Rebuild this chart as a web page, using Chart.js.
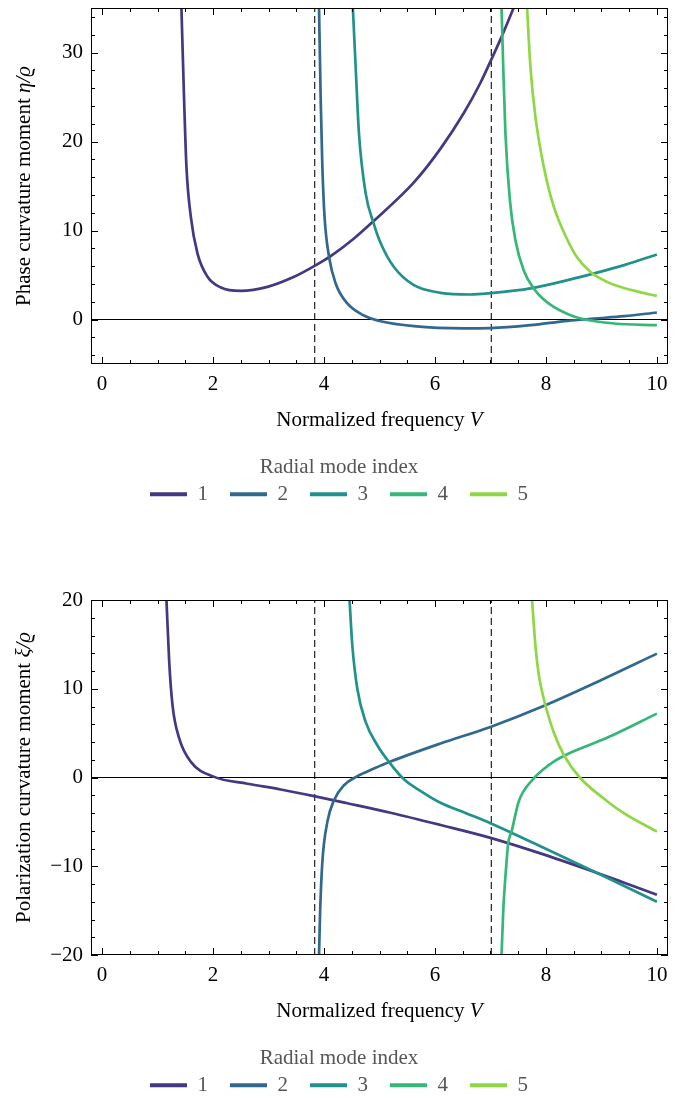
<!DOCTYPE html>
<html><head><meta charset="utf-8">
<script src="https://cdn.jsdelivr.net/npm/chart.js@4.4.1/dist/chart.umd.min.js"></script>
<style>html,body{margin:0;padding:0;background:#fff;overflow:hidden}canvas{display:block}</style>
</head><body>
<canvas id="c1" width="682" height="549"></canvas>
<canvas id="c2" width="682" height="549"></canvas>
<script>
// ---------- data ----------
const modeLabels = ['1', '2', '3', '4', '5'];
const modeColors = ['#453781', '#31688e', '#21918c', '#35b779', '#8fd744'];
const cutoffV = [3.8317, 7.0156];
const xRange = [-0.2, 10.2];
const xTicks = [0, 2, 4, 6, 8, 10];
const xMinorTicks = [0.5, 1, 1.5, 2.5, 3, 3.5, 4.5, 5, 5.5, 6.5, 7, 7.5, 8.5, 9, 9.5];
const xTitleParts = [['Normalized frequency ', false], ['V', true]];
const etaTitleParts = [['Phase curvature moment ', false], ['\u03B7/\u03F1', true]];
const xiTitleParts = [['Polarization curvature moment ', false], ['\u03BE/\u03F1', true]];
const legendTitle = 'Radial mode index';

// Phase curvature moment eta/rho
const etaRange = [-5, 35];
const etaTicks = [0, 10, 20, 30];
const etaMinorTicks = [-4, -2, 2, 4, 6, 8, 12, 14, 16, 18, 22, 24, 26, 28, 32, 34];
const etaV1 = [1.43, 1.478, 1.52, 1.60, 1.72, 1.90, 2.14, 2.50, 2.98, 3.46, 3.83, 4.12, 4.54, 4.90, 5.62, 6.10, 6.52, 6.82, 7.00, 7.21, 7.45];
const etaY1 = [35, 24.7, 17.2, 11.5, 7.4, 4.8, 3.6, 3.22, 3.67, 4.8, 6.03, 7.12, 9.1, 11.1, 15.4, 19.2, 23.2, 26.6, 29.0, 31.9, 35.5];
const etaV2 = [3.91, 3.94, 3.97, 4.01, 4.09, 4.21, 4.42, 4.72, 5.02, 5.62, 6.52, 7.00, 7.72, 8.39, 8.87, 9.41, 10.0];
const etaY2 = [35, 24.7, 17.2, 11.5, 7.05, 4.05, 1.8, 0.45, -0.2, -0.75, -1.0, -0.97, -0.64, -0.15, 0.1, 0.37, 0.79];
const etaV3 = [4.52, 4.57, 4.63, 4.75, 4.90, 5.02, 5.26, 5.62, 6.10, 6.64, 7.00, 7.72, 8.39, 8.87, 9.41, 10.0];
const etaY3 = [35, 28.4, 20.9, 14.2, 10.7, 8.6, 5.9, 3.86, 3.0, 2.81, 2.96, 3.49, 4.42, 5.18, 6.11, 7.31];
const etaV4 = [7.20, 7.23, 7.27, 7.35, 7.45, 7.60, 7.78, 7.95, 8.14, 8.40, 8.63, 9.23, 10.0];
const etaY4 = [35, 28.4, 20.9, 13.4, 8.9, 5.5, 3.49, 2.3, 1.42, 0.6, 0.11, -0.45, -0.64];
const etaV5 = [7.66, 7.72, 7.81, 7.96, 8.14, 8.39, 8.57, 8.81, 9.11, 9.35, 9.71, 10.0];
const etaY5 = [35, 28.4, 22.8, 17.2, 12.7, 8.9, 6.9, 5.3, 4.2, 3.65, 3.05, 2.66];

// Polarization curvature moment xi/rho
const xiRange = [-20, 20];
const xiTicks = [-20, -10, 0, 10, 20];
const xiMinorTicks = [-18, -16, -14, -12, -8, -6, -4, -2, 2, 4, 6, 8, 12, 14, 16, 18];
const xiV1 = [1.16, 1.21, 1.27, 1.39, 1.60, 2.02, 2.62, 3.22, 3.82, 4.42, 5.20, 6.10, 7.00, 7.90, 8.81, 9.41, 10.0];
const xiY1 = [20, 13.0, 8.1, 4.4, 1.76, 0.07, -0.7, -1.35, -2.1, -2.9, -3.97, -5.35, -6.8, -8.55, -10.5, -11.85, -13.2];
const xiV2 = [3.91, 3.93, 3.97, 4.06, 4.18, 4.36, 4.60, 4.90, 5.20, 6.10, 7.00, 7.99, 8.99, 10.0];
const xiY2 = [-20, -15.1, -9.5, -5.0, -2.56, -0.87, 0.15, 1.01, 1.8, 3.83, 5.7, 8.14, 10.96, 13.96];
const xiV3 = [4.46, 4.51, 4.60, 4.75, 4.96, 5.17, 5.44, 5.80, 6.10, 6.55, 7.00, 7.90, 8.99, 10.0];
const xiY3 = [20, 14.9, 10.0, 6.26, 3.64, 1.76, -0.2, -1.75, -2.85, -4.0, -5.15, -7.75, -10.95, -14.0];
const xiV4 = [7.20, 7.23, 7.29, 7.32, 7.38, 7.51, 7.78, 7.95, 8.14, 8.33, 8.50, 9.11, 10.0];
const xiY4 = [-20, -15.1, -9.5, -7.4, -6.1, -2.7, -0.1, 0.9, 1.8, 2.45, 2.95, 4.5, 7.2];
const xiV5 = [7.75, 7.81, 7.87, 7.93, 7.99, 8.14, 8.33, 8.61, 9.11, 9.41, 10.0];
const xiY5 = [20, 14.9, 11.6, 9.7, 8.14, 5.1, 2.45, 0, -2.7, -4.05, -6.1];

// ---------- chart building ----------
const FONT = "'Liberation Serif', 'Times New Roman', serif";
const fmt = v => String(v).replace('-', '\u2212');
const pts = (vs, ys) => vs.map((v, i) => ({x: v, y: ys[i]}));

const frameTicks = {
  id: 'frameTicks',
  afterDatasetsDraw(chart, args, o) {
    const {ctx, chartArea: a, scales: {x, y}} = chart;
    ctx.save();
    ctx.strokeStyle = '#000';
    ctx.lineWidth = 1;
    ctx.beginPath();
    const vx = (vals, len) => vals.forEach(v => {
      const p = Math.round(x.getPixelForValue(v)) + 0.5;
      ctx.moveTo(p, a.bottom); ctx.lineTo(p, a.bottom - len);
      ctx.moveTo(p, a.top); ctx.lineTo(p, a.top + len);
    });
    const vy = (vals, len) => vals.forEach(v => {
      const p = Math.round(y.getPixelForValue(v)) + 0.5;
      ctx.moveTo(a.left, p); ctx.lineTo(a.left + len, p);
      ctx.moveTo(a.right, p); ctx.lineTo(a.right - len, p);
    });
    vx(o.xMajor, 7); vx(o.xMinor, 4); vy(o.yMajor, 7); vy(o.yMinor, 4);
    ctx.stroke();
    ctx.strokeRect(a.left + 0.5, a.top + 0.5, a.right - a.left - 1, a.bottom - a.top - 1);
    ctx.restore();
  }
};

// axis titles with italic symbol parts (drawn in the space reserved by the scales)
const mixedTitles = {
  id: 'mixedTitles',
  afterDraw(chart, args, o) {
    const {ctx, chartArea: a, scales: {x, y}} = chart;
    const draw = (parts, cx, cy, rot) => {
      ctx.save();
      ctx.translate(cx, cy);
      ctx.rotate(rot);
      ctx.fillStyle = '#000';
      ctx.textBaseline = 'middle';
      ctx.textAlign = 'left';
      const fonts = parts.map(p => (p[1] ? 'italic ' : '') + '21px ' + FONT);
      let total = 0;
      const widths = parts.map((p, i) => { ctx.font = fonts[i]; const w = ctx.measureText(p[0]).width; total += w; return w; });
      let cur = -total / 2;
      parts.forEach((p, i) => { ctx.font = fonts[i]; ctx.fillText(p[0], cur, 0); cur += widths[i]; });
      ctx.restore();
    };
    draw(o.x, (a.left + a.right) / 2, x.bottom - 12.6, 0);
    draw(o.y, y.left + 2 + 12.6, (a.top + a.bottom) / 2, -Math.PI / 2);
  }
};

function makeChart(id, yTitleParts, yRange, yTicks, yMinor, xs, ys, padTop, padBottom) {
  const datasets = xs.map((vx, i) => ({
    label: modeLabels[i],
    data: pts(vx, ys[i]),
    showLine: true,
    borderColor: modeColors[i],
    backgroundColor: modeColors[i],
    borderWidth: 2.7,
    pointRadius: 0,
    cubicInterpolationMode: 'monotone',
    order: 10 - i
  }));
  datasets.push({
    label: 'zero', guide: true,
    data: [{x: xRange[0], y: 0}, {x: xRange[1], y: 0}],
    showLine: true, borderColor: '#000', borderWidth: 1.2, pointRadius: 0, order: 50
  });
  cutoffV.forEach(c => datasets.push({
    label: 'cutoff', guide: true,
    data: [{x: c, y: yRange[0]}, {x: c, y: yRange[1]}],
    showLine: true, borderColor: '#222', borderWidth: 1.2, borderDash: [7, 4], pointRadius: 0, order: 50
  }));

  return new Chart(document.getElementById(id), {
    type: 'scatter',
    data: {datasets},
    plugins: [frameTicks, mixedTitles],
    options: {
      responsive: false,
      animation: false,
      events: [],
      layout: {padding: {top: padTop, left: 10, right: 14, bottom: padBottom}, autoPadding: false},
      scales: {
        x: {
          type: 'linear', min: xRange[0], max: xRange[1],
          afterBuildTicks: s => { s.ticks = xTicks.map(v => ({value: v})); },
          afterFit: s => { s.height = 69; s.paddingLeft = 0; s.paddingRight = 0; },
          grid: {display: false, drawTicks: false},
          border: {display: false},
          ticks: {font: {family: FONT, size: 21}, color: '#000', padding: 8, maxRotation: 0, autoSkip: false, callback: v => fmt(v)},
          title: {display: false}
        },
        y: {
          type: 'linear', min: yRange[0], max: yRange[1],
          afterBuildTicks: s => { s.ticks = yTicks.map(v => ({value: v})); },
          afterFit: s => { s.width = 81; s.paddingTop = 0; s.paddingBottom = 0; },
          grid: {display: false, drawTicks: false},
          border: {display: false},
          ticks: {font: {family: FONT, size: 21}, color: '#000', padding: 8, autoSkip: false, callback: v => fmt(v)},
          title: {display: false}
        }
      },
      plugins: {
        tooltip: {enabled: false},
        frameTicks: {xMajor: xTicks, xMinor: xMinorTicks, yMajor: yTicks, yMinor: yMinor},
        mixedTitles: {x: xTitleParts, y: yTitleParts},
        legend: {
          position: 'bottom', align: 'center',
          title: {display: true, text: legendTitle, color: '#555', font: {family: FONT, size: 21}, padding: {top: 23.5, bottom: -20}},
          labels: {
            font: {family: FONT, size: 21}, color: '#555',
            boxWidth: 37, boxHeight: 4, padding: 22,
            sort: (a, b) => a.datasetIndex - b.datasetIndex,
            filter: (item, data) => !data.datasets[item.datasetIndex].guide,
            generateLabels: chart => Chart.defaults.plugins.legend.labels.generateLabels(chart).map(l => Object.assign(l, {lineWidth: 0, fillStyle: chart.data.datasets[l.datasetIndex].borderColor}))
          }
        }
      }
    }
  });
}

makeChart('c1', etaTitleParts, etaRange, etaTicks, etaMinorTicks,
  [etaV1, etaV2, etaV3, etaV4, etaV5], [etaY1, etaY2, etaY3, etaY4, etaY5], 8, 34.3);
makeChart('c2', xiTitleParts, xiRange, xiTicks, xiMinorTicks,
  [xiV1, xiV2, xiV3, xiV4, xiV5], [xiY1, xiY2, xiY3, xiY4, xiY5], 51, -7.7);
</script>
</body></html>
